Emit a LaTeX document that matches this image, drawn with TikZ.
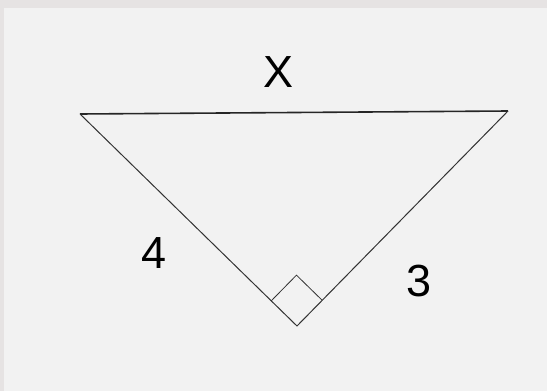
\documentclass[tikz,border=0pt]{standalone}
\usepackage{fontspec}
\setmainfont{Liberation Sans}
\usetikzlibrary{calc}
\definecolor{outerbg}{HTML}{E6E3E3}
\definecolor{panelbg}{HTML}{F2F2F2}
\tikzset{side/.style={black!80, line width=1pt}, sidelabel/.style={font=\fontsize{45}{45}\selectfont, inner sep=0pt}}
\begin{document}
\begin{tikzpicture}[x=1pt, y=-1pt]
				\fill[outerbg] (0,0) rectangle (547,391);
				\fill[panelbg] (4,8) rectangle (547,391);
				\useasboundingbox (0,0) rectangle (547,391);
				\coordinate (A) at (80,114);
				\coordinate (B) at (508,111);
				\coordinate (C) at (297,326);
				\draw[side, line width=1.6pt, black!85] (A) -- (B);
				\draw[side] (A) -- (C) -- (B);
				\coordinate (P) at ($(C)!36pt!(A)$);
				\coordinate (Q) at ($(C)!36pt!(B)$);
				\draw[side, line width=0.8pt] (P) -- ($(P)+(Q)-(C)$) -- (Q);
				\node[sidelabel] (labx) at (279,72) {X};
				\node[sidelabel] (lab4) at (154,253) {4};
				\node[sidelabel] (lab3) at (419,281) {3};
			\end{tikzpicture}
\end{document}
